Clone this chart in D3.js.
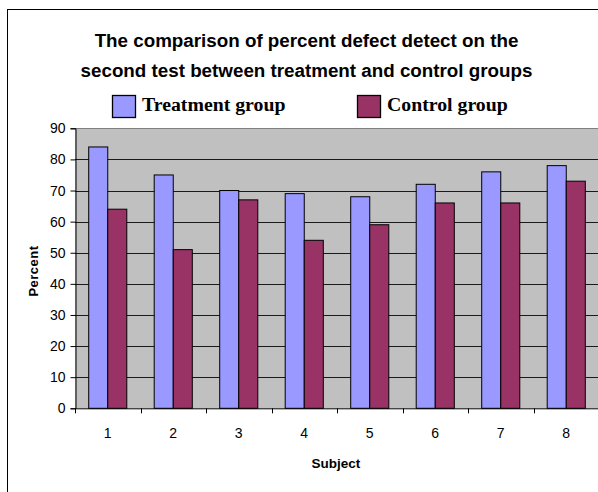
<!DOCTYPE html>
<html><head><meta charset="utf-8">
<script src="https://cdn.jsdelivr.net/npm/d3@7"></script>
<style>body{margin:0;background:#fff}svg{display:block}</style>
</head><body>
<svg id="c" width="598" height="492"></svg>
<script>
const subjects = ["1","2","3","4","5","6","7","8"];
const treatment = [84, 75, 70, 69, 68, 72, 76, 78];
const control = [64, 51, 67, 54, 59, 66, 66, 73];
const seriesNames = ["Treatment group", "Control group"];
const yTicks = [0,10,20,30,40,50,60,70,80,90];
const titleLines = ["The comparison of percent defect detect on the", "second test between treatment and control groups"];

const colors = ["#9999FF", "#993366"];
const svg = d3.select("#c");
const m = {left:75, right:599, top:128.3, bottom:408.3};
const sans = "Liberation Sans, Arial, sans-serif";

// outer frame
svg.append("rect").attr("x",7.5).attr("y",9.5).attr("width",700).attr("height",600)
  .attr("fill","#fff").attr("stroke","#000").attr("stroke-width",1);

const x = d3.scaleBand().domain(subjects).range([m.left, m.right]).paddingInner(0).paddingOuter(0);
const x1 = d3.scaleBand().domain(seriesNames).range([0, x.bandwidth()]).paddingInner(0).paddingOuter(0.72);
const y = d3.scaleLinear().domain([0,90]).range([m.bottom, m.top]);

// plot background
svg.append("rect").attr("x",m.left).attr("y",y(90)).attr("width",m.right-m.left).attr("height",y(0)-y(90))
  .attr("fill","#C0C0C0");

// gridlines
svg.append("g").selectAll("line").data(yTicks.filter(d=>d>0)).join("line")
  .attr("x1",m.left).attr("x2",m.right+10)
  .attr("y1",d=>Math.round(y(d))+0.5).attr("y2",d=>Math.round(y(d))+0.5)
  .attr("stroke",d=>d===90?"#808080":"#1a1a1a").attr("stroke-width",1);

// bars
const data = subjects.map((s,i)=>({s, vals:[treatment[i], control[i]]}));
const g = svg.append("g").selectAll("g").data(data).join("g")
  .attr("transform",d=>`translate(${x(d.s)},0)`);
g.selectAll("rect").data(d=>d.vals.map((v,j)=>({v,name:seriesNames[j],j}))).join("rect")
  .attr("x",d=>x1(d.name)).attr("width",x1.bandwidth())
  .attr("y",d=>y(d.v)).attr("height",d=>y(0)-y(d.v))
  .attr("fill",d=>colors[d.j]).attr("stroke","#000").attr("stroke-width",1);

// y axis
const ya = svg.append("g").attr("transform",`translate(${m.left+0.5},0)`)
  .call(d3.axisLeft(y).tickValues(yTicks).tickSize(5).tickPadding(5).tickFormat(d3.format("d")));
ya.selectAll("text").attr("font-family",sans).attr("font-size",14).attr("fill","#000");
ya.select(".domain").attr("stroke","#000");
ya.selectAll(".tick line").attr("stroke","#000");

// x axis
const xa = svg.append("g").attr("transform",`translate(0,${m.bottom})`)
  .call(d3.axisBottom(x).tickSize(0).tickPadding(20));
xa.select(".domain").attr("stroke","#000").attr("d",`M${m.left},0.5H${m.right+10}`);
xa.selectAll("text").attr("font-family",sans).attr("font-size",14).attr("fill","#000");
// tick marks at band boundaries
svg.append("g").selectAll("line").data(subjects.concat(["end"])).join("line")
  .attr("x1",(d,i)=>Math.round(m.left + i*x.step())+0.5).attr("x2",(d,i)=>Math.round(m.left + i*x.step())+0.5)
  .attr("y1",m.bottom).attr("y2",m.bottom+5).attr("stroke","#000");

// axis titles
svg.append("text").attr("transform",`translate(38,271) rotate(-90)`).attr("text-anchor","middle")
  .attr("font-family",sans).attr("font-weight","bold").attr("font-size",13)
  .attr("letter-spacing",0.5)
  .text("Percent");
svg.append("text").attr("x",(m.left+m.right)/2-1).attr("y",468).attr("text-anchor","middle")
  .attr("font-family",sans).attr("font-weight","bold").attr("font-size",13.5)
  .text("Subject");

// title
svg.append("g").selectAll("text").data(titleLines).join("text")
  .attr("x",306.5).attr("y",(d,i)=>46.7+i*30).attr("text-anchor","middle")
  .attr("font-family",sans).attr("font-weight","bold").attr("font-size",18.8)
  .text(d=>d);

// legend
const legX = [112, 357];
const lg = svg.append("g").selectAll("g").data(seriesNames).join("g")
  .attr("transform",(d,i)=>`translate(${legX[i]},95)`);
lg.append("rect").attr("x",0.5).attr("y",0.5).attr("width",23).attr("height",22)
  .attr("fill",(d,i)=>colors[i]).attr("stroke","#000").attr("stroke-width",1.3);
lg.append("text").attr("x",30).attr("y",16)
  .attr("font-family","Liberation Serif, Times New Roman, serif").attr("font-weight","bold").attr("font-size",19.8)
  .text(d=>d);
</script>
</body></html>
